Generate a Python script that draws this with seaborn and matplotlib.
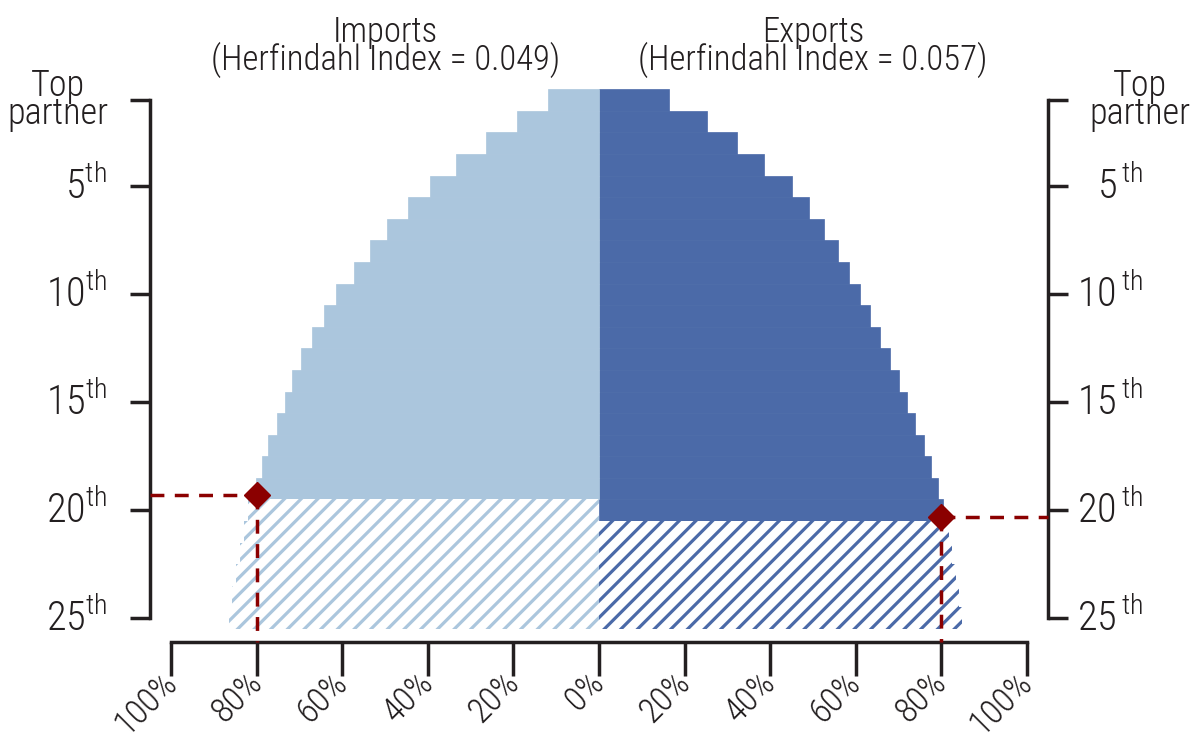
import numpy as np
import pandas as pd
import matplotlib
matplotlib.use("Agg")
import matplotlib.pyplot as plt
import seaborn as sns


# partner rank (1 = top partner) and cumulative share of trade, in %
ranks = list(range(1, 26))
imports_share = [11.9, 19.2, 26.5, 33.5, 39.6, 44.7, 49.6, 53.6, 57.4, 61.4,
                 64.2, 67.0, 69.6, 71.7, 73.5, 75.4, 77.3, 78.7, 80.1, 82.0,
                 83.0, 84.0, 85.0, 85.8, 86.6]
exports_share = [16.4, 25.3, 32.2, 38.7, 45.2, 49.1, 52.6, 55.8, 58.4, 61.1,
                 63.4, 65.7, 68.1, 70.2, 72.1, 74.0, 76.0, 77.6, 79.2, 80.5,
                 81.8, 82.5, 83.4, 84.2, 84.8]

# last rank drawn solid, the rest is hatched
imports_cut = 19
exports_cut = 20

# rank at which 80% of trade is reached
imports_80 = 19.3
exports_80 = 20.3

imports_title = "Imports\n(Herfindahl Index = 0.049)"
exports_title = "Exports\n(Herfindahl Index = 0.057)"

x_ticks = [-100, -80, -60, -40, -20, 0, 20, 40, 60, 80, 100]
x_labels = ["100%", "80%", "60%", "40%", "20%", "0%", "20%", "40%", "60%", "80%", "100%"]
y_ticks = [1, 5, 10, 15, 20, 25]
y_labels_left = ["Top\npartner", r"5$^{\mathrm{th}}$", r"10$^{\mathrm{th}}$",
                 r"15$^{\mathrm{th}}$", r"20$^{\mathrm{th}}$", r"25$^{\mathrm{th}}$"]
y_labels_right = ["Top\npartner", r"5$^{\,\mathrm{th}}$", r"10$^{\,\mathrm{th}}$",
                  r"15$^{\,\mathrm{th}}$", r"20$^{\,\mathrm{th}}$", r"25$^{\,\mathrm{th}}$"]

light_blue = "#ABC6DD"
dark_blue = "#4B6AA8"
red = "#8B0000"
ink = "#231F20"

sns.set_style("white")
plt.rcParams['font.family'] = ['Roboto Condensed', 'DejaVu Sans']
plt.rcParams['font.weight'] = 'light'
plt.rcParams['mathtext.fontset'] = 'custom'
plt.rcParams['mathtext.rm'] = 'Roboto Condensed:light'
plt.rcParams['hatch.linewidth'] = 2.3
plt.rcParams['text.color'] = ink

df = pd.DataFrame({
    'rank': ranks + ranks,
    'share': [-v for v in imports_share] + exports_share,
    'side': ['Imports'] * len(ranks) + ['Exports'] * len(ranks),
})
df['hatched'] = np.where(df['side'] == 'Imports', df['rank'] > imports_cut, df['rank'] > exports_cut)

fig = plt.figure(figsize=(11.93, 7.35), dpi=100)
ax = fig.add_axes([150 / 1193, 93 / 735, 898 / 1193, 552.8 / 735])

colors = {'Imports': light_blue, 'Exports': dark_blue}
for (side, hatched), sub in df.groupby(['side', 'hatched']):
    n0 = len(ax.patches)
    sns.barplot(data=sub, x='share', y='rank', orient='y', native_scale=True,
                width=1.0, color=colors[side], errorbar=None, ax=ax)
    for p in ax.patches[n0:]:
        if hatched:
            p.set_facecolor('white')
            p.set_edgecolor(colors[side])
            p.set_hatch('//')
            p.set_linewidth(0)
        else:
            p.set_facecolor(colors[side])
            p.set_edgecolor(colors[side])
            p.set_linewidth(0.5)

# 80% markers
dash = (0, (4, 3))
ax.plot([-105, -80], [imports_80, imports_80], color=red, lw=2.5, ls=dash, clip_on=False, zorder=5)
ax.plot([-80, -80], [imports_80, 26.1], color=red, lw=2.5, ls=dash, clip_on=False, zorder=5)
ax.plot([80, 105], [exports_80, exports_80], color=red, lw=2.5, ls=dash, clip_on=False, zorder=5)
ax.plot([80, 80], [exports_80, 26.1], color=red, lw=2.5, ls=dash, clip_on=False, zorder=5)
ax.plot([-80, 80], [imports_80, exports_80], ls='none', marker='D', ms=13, color=red, zorder=6, clip_on=False)

ax.set_xlim(-105, 105)
ax.set_ylim(26.1, 0.5)
ax.set_xlabel('')
ax.set_ylabel('')

for side in ['left', 'right', 'bottom']:
    ax.spines[side].set_visible(True)
    ax.spines[side].set_linewidth(2.5)
    ax.spines[side].set_color(ink)
ax.spines['top'].set_visible(False)
ax.spines['left'].set_bounds(1, 25)
ax.spines['right'].set_bounds(1, 25)
ax.spines['bottom'].set_bounds(-100, 100)

ax.set_yticks(y_ticks)
ax.tick_params(axis='y', left=True, right=True, direction='out', length=14.4, width=2.5,
               color=ink, labelleft=False, labelright=False)
ax.set_xticks(x_ticks, labels=x_labels)
ax.tick_params(axis='x', bottom=True, direction='out', length=24.5, width=2.5,
               color=ink, labelsize=25, labelcolor=ink, pad=1)
for lbl in ax.get_xticklabels():
    lbl.set_rotation(45)
    lbl.set_ha('right')
    lbl.set_va('center')
    lbl.set_rotation_mode('anchor')

ytr = ax.get_yaxis_transform()
for r, lab_l, lab_r in zip(y_ticks, y_labels_left, y_labels_right):
    if r == 1:
        ax.text(-0.1024, r, lab_l, transform=ytr, ha='center', va='center',
                fontsize=26, linespacing=0.72)
        ax.text(1.1024, r, lab_r, transform=ytr, ha='center', va='center',
                fontsize=26, linespacing=0.72)
    else:
        ax.text(-0.0479, r + 0.58, lab_l, transform=ytr, ha='right', va='baseline', fontsize=29)
        ax.text(1.1058, r + 0.58, lab_r, transform=ytr, ha='right', va='baseline', fontsize=29)

ax.text(-50, 0.0, imports_title, ha='center', va='bottom', fontsize=25, linespacing=0.75)
ax.text(50, 0.0, exports_title, ha='center', va='bottom', fontsize=25, linespacing=0.75)

fig.savefig("out.png", dpi=100)
